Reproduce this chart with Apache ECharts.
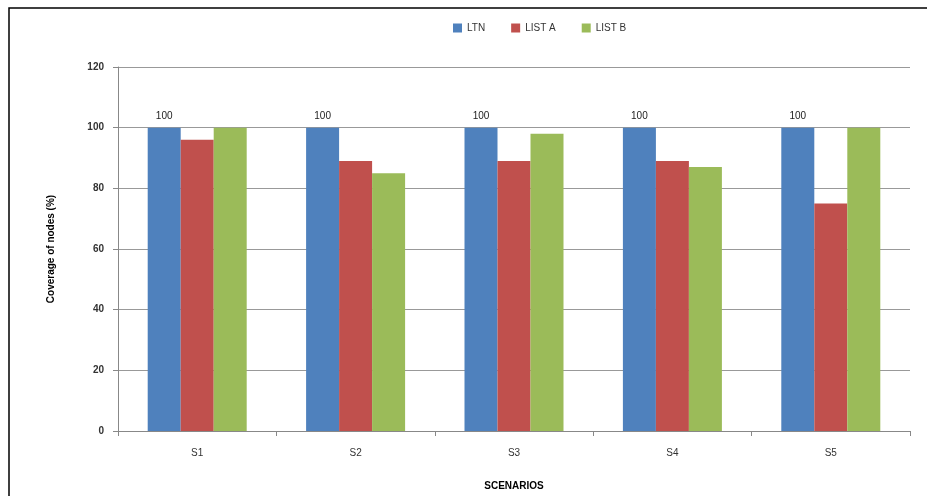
<!DOCTYPE html>
<html><head><meta charset="utf-8">
<script src="https://cdn.jsdelivr.net/npm/echarts@6/dist/echarts.min.js"></script>
<style>html,body{margin:0;padding:0;background:#fff}#c{width:927px;height:496px}</style>
</head><body><div id="c"></div>
<script>
const categories = ['S1','S2','S3','S4','S5'];
const ltn = [100,100,100,100,100];
const listA = [96,89,89,89,75];
const listB = [100,85,98,87,100];
const yTicks = [0,20,40,60,80,100,120];

const chart = echarts.init(document.getElementById('c'));
const font = 'Liberation Sans';
chart.setOption({
  animation:false,
  textStyle:{fontFamily:font},
  graphic:[{type:'rect',shape:{x:9,y:8,width:930,height:500},style:{fill:'none',stroke:'#000',lineWidth:1.5},silent:true}],
  legend:{top:18,left:448,itemWidth:9,itemHeight:9,itemGap:26,icon:'rect',
    textStyle:{fontSize:10,color:'#333',fontFamily:font},
    data:['LTN','LIST A','LIST B']},
  grid:{left:118,right:17,top:67,bottom:63},
  xAxis:{type:'category',data:categories,
    name:'SCENARIOS',nameLocation:'middle',nameGap:50,
    nameTextStyle:{fontSize:10,fontWeight:'bold',color:'#000'},
    axisLine:{lineStyle:{color:'#888'}},
    axisTick:{show:true,alignWithLabel:false,length:5,lineStyle:{color:'#888'}},
    axisLabel:{fontSize:10,color:'#333',margin:17}},
  yAxis:{type:'value',min:0,max:120,interval:20,
    name:'Coverage of nodes (%)',nameLocation:'middle',nameGap:62,
    nameTextStyle:{fontSize:10,fontWeight:'bold',color:'#000'},
    axisLine:{show:true,lineStyle:{color:'#888'}},
    axisTick:{show:true,length:5,lineStyle:{color:'#888'}},
    axisLabel:{fontSize:10,color:'#333',margin:14,fontWeight:'bold',
      formatter:v=>yTicks.includes(v)?String(v):''},
    splitLine:{lineStyle:{color:'#999'}}},
  series:[
    {name:'LTN',type:'bar',data:ltn,barWidth:33,barGap:'0%',itemStyle:{color:'#4F81BD'},
      label:{show:true,position:'top',distance:6,fontSize:10,color:'#222'}},
    {name:'LIST A',type:'bar',data:listA,barWidth:33,barGap:'0%',itemStyle:{color:'#C0504D'}},
    {name:'LIST B',type:'bar',data:listB,barWidth:33,barGap:'0%',itemStyle:{color:'#9BBB59'}}
  ]
});
</script></body></html>
